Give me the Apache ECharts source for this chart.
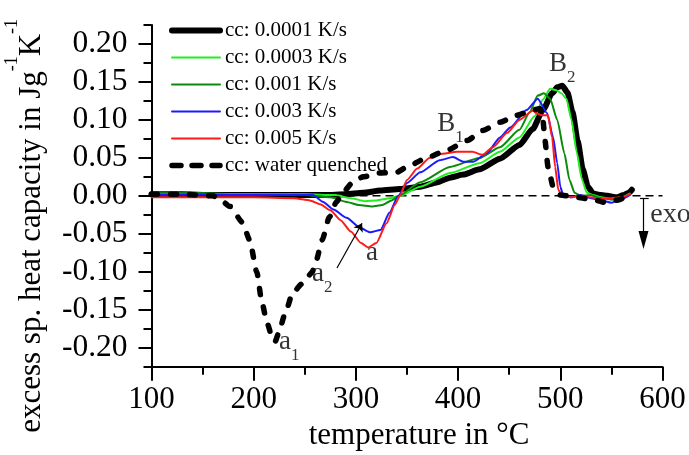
<!DOCTYPE html>
<html>
<head>
<meta charset="utf-8">
<script src="https://cdn.jsdelivr.net/npm/echarts@6/dist/echarts.min.js"></script>
<style>
  html, body { margin: 0; background: #fff; }
  #chart { width: 689px; height: 455px; }
</style>
</head>
<body>
<div id="chart"></div>
<script>
// temperature (°C) / excess specific heat capacity (J g^-1 K^-1)
const names = ['cc: 0.0001 K/s', 'cc: 0.0003 K/s', 'cc: 0.001 K/s', 'cc: 0.003 K/s', 'cc: 0.005 K/s', 'cc: water quenched'];

const cc00001 = [[100,0.002],[130,0.002],[160,0.001],[200,0.001],[240,0.001],[270,0.001],[290,0.002],[307,0.004],[324,0.007],
  [343,0.009],[363,0.012],[380,0.018],[392,0.024],[405,0.028],[421,0.035],[441,0.049],[460,0.067],[473,0.088],[483,0.113],
  [492,0.135],[497,0.143],[502,0.145],[507,0.136],[512,0.110],[517,0.072],[522,0.035],[527,0.012],[532,0.003],[540,0.001],
  [546,0.000],[555,-0.002],[562,0.001],[567,0.004],[570,0.008]];

const cc00003 = [[100,0.003],[150,0.003],[200,0.002],[250,0.002],[280,0.001],[295,-0.003],[309,-0.007],[320,-0.006],[333,-0.003],
  [343,0.000],[363,0.012],[392,0.030],[421,0.043],[441,0.058],[460,0.077],[475,0.105],[483,0.127],[490,0.141],[496,0.139],
  [501,0.135],[506,0.128],[511,0.100],[516,0.058],[521,0.022],[526,0.004],[532,0.001],[540,-0.002],[550,-0.004],[560,-0.002],[568,0.003]];

const cc0001 = [[100,0.002],[150,0.002],[200,0.001],[250,0.001],[275,-0.002],[291,-0.008],[303,-0.012],[316,-0.014],[326,-0.012],
  [335,-0.006],[342,0.000],[363,0.018],[392,0.038],[421,0.050],[441,0.064],[460,0.087],[470,0.110],[478,0.132],[484,0.135],
  [490,0.128],[497,0.100],[504,0.056],[509,0.021],[514,0.004],[520,0.000],[530,0.001],[540,-0.003],[550,-0.005],[560,-0.002],[568,0.002]];

const cc0003 = [[100,0.001],[150,0.002],[200,0.001],[250,0.001],[258,0.001],[268,-0.008],[278,-0.018],[291,-0.029],[304,-0.042],
  [314,-0.048],[324,-0.045],[333,-0.022],[341,-0.001],[350,0.017],[363,0.031],[382,0.047],[395,0.051],[405,0.045],[415,0.045],
  [428,0.056],[441,0.077],[451,0.090],[467,0.113],[478,0.128],[487,0.109],[493,0.077],[497,0.043],[500,0.012],[503,0.000],
  [510,-0.002],[520,0.001],[530,-0.003],[540,-0.006],[550,-0.009],[560,-0.004],[568,0.001]];

const cc0005 = [[100,-0.002],[150,-0.002],[200,-0.002],[240,-0.003],[255,-0.006],[265,-0.011],[275,-0.019],[285,-0.032],[295,-0.047],
  [305,-0.062],[312,-0.068],[320,-0.062],[330,-0.036],[338,-0.012],[343,0.000],[350,0.021],[360,0.036],[372,0.050],[382,0.055],
  [399,0.058],[414,0.058],[424,0.054],[434,0.064],[448,0.083],[460,0.100],[473,0.112],[478,0.108],[482,0.106],[488,0.106],
  [492,0.077],[495,0.038],[498,0.008],[502,0.000],[510,-0.002],[520,0.000],[530,-0.002],[540,-0.004],[550,-0.003],[560,-0.002],[568,0.002]];

const waterQuenched = [[100,0.002],[130,0.002],[160,0.000],[167,-0.005],[177,-0.014],[189,-0.035],[196,-0.058],[203,-0.100],
  [208,-0.140],[213,-0.167],[218,-0.186],[221,-0.192],[224,-0.182],[231,-0.154],[238,-0.128],[248,-0.115],[257,-0.101],
  [261,-0.086],[267,-0.058],[274,-0.028],[281,-0.008],[287,0.004],[297,0.018],[307,0.025],[323,0.030],[340,0.031],[350,0.038],
  [369,0.050],[389,0.060],[409,0.073],[424,0.086],[441,0.097],[457,0.106],[473,0.113],[480,0.115],[483,0.100],[485,0.073],
  [488,0.038],[493,0.012],[500,0.001],[512,-0.001],[532,-0.005],[545,-0.009],[558,-0.005],[568,0.004]];

const zeroLine = [[100,0],[600,0]];

// annotations: [temperature, value, text]
const notes = [[489,0.192,'{m|B}{s|2}'],[379.5,0.113,'{m|B}{s|1}'],[310,-0.058,'{m|a}'],
  [257,-0.085,'{m|a}{s|2}'],[224.8,-0.174,'{m|a}{s|1}'],[588,-0.006,'{e|exo}']];
const a2Arrow = [[281.5,-0.095],[306,-0.036]];
const exoArrow = [[581.4,-0.003],[581.4,-0.058]];
const exoBar = [[578,-0.003],[586.5,-0.003]];

const font = "'Liberation Serif', 'Times New Roman', serif";
const colors = ['#000000', '#1ef01e', '#0a8a0a', '#1a1aff', '#ff1a1a', '#000000'];
const widths = [6, 2, 2, 2, 2, 5.5];
const dash = [6, 13];

const chart = echarts.init(document.getElementById('chart'));

function curve(i, data) {
  return {
    name: names[i], type: 'line', data: data, symbol: 'none', showSymbol: false,
    smooth: 0.2, smoothMonotone: 'x',
    lineStyle: { color: colors[i], width: widths[i], type: i === 5 ? dash : 'solid', cap: 'round', join: 'round' },
    itemStyle: { color: colors[i] },
    emphasis: { disabled: true }
  };
}

const option = {
  animation: false,
  backgroundColor: '#fff',
  grid: [
    { left: 151.5, right: 26.5, top: 25, bottom: 88.3, outerBoundsMode: 'none', containLabel: false },
    { left: 151.5, right: 26.5, top: 44, bottom: 107.4, outerBoundsMode: 'none', containLabel: false }
  ],
  legend: {
    data: names.map((n, i) => ({
      name: n,
      itemStyle: { opacity: 0 },
      lineStyle: { color: colors[i], width: widths[i], type: i === 5 ? [9, 11] : 'solid', cap: 'round', opacity: 1 }
    })),
    orient: 'vertical', left: 164, top: 15,
    itemWidth: 48, itemHeight: 12, itemGap: 6,
    textStyle: { fontFamily: font, fontSize: 21, lineHeight: 21, color: '#000' }
  },
  xAxis: [{
    gridIndex: 0, type: 'value', min: 100, max: 600, interval: 100,
    name: 'temperature in °C', nameLocation: 'middle', nameGap: 45,
    nameTextStyle: { fontFamily: font, fontSize: 31, color: '#000', padding: [0, 0, 0, 24] },
    axisLine: { onZero: false, lineStyle: { color: '#000', width: 2 } },
    axisTick: { length: 14, lineStyle: { width: 2 } },
    minorTick: { show: true, splitNumber: 2, length: 8, lineStyle: { color: '#000', width: 2 } },
    splitLine: { show: false },
    axisLabel: { fontFamily: font, fontSize: 31, color: '#000', margin: 18 }
  }, {
    gridIndex: 1, type: 'value', min: 100, max: 600, show: false
  }],
  yAxis: [{
    gridIndex: 0, type: 'value', min: -0.225, max: 0.225, interval: 0.025,
    axisLine: { onZero: false, lineStyle: { color: '#000', width: 2 } },
    axisTick: { length: 8, lineStyle: { width: 2 } },
    axisLabel: { show: false },
    splitLine: { show: false },
    name: '{n|excess sp. heat capacity in Jg}{p|-1}{n|K}{p|-1}',
    nameLocation: 'middle', nameGap: 104,
    nameTextStyle: {
      padding: [0, 60, 0, 0],
      rich: {
        n: { fontFamily: font, fontSize: 31, lineHeight: 44, verticalAlign: 'bottom', color: '#000' },
        p: { fontFamily: font, fontSize: 18, lineHeight: 44, verticalAlign: 'top', color: '#000' }
      }
    }
  }, {
    gridIndex: 1, type: 'value', min: -0.2, max: 0.2, interval: 0.05,
    axisLine: { show: false },
    axisTick: { length: 13, lineStyle: { color: '#000', width: 2 } },
    splitLine: { show: false },
    axisLabel: { fontFamily: font, fontSize: 31.5, color: '#000', margin: 24, formatter: v => v.toFixed(2) }
  }],
  series: [
    {
      name: 'zero', type: 'line', data: zeroLine, symbol: 'none', silent: true,
      lineStyle: { color: '#000', width: 1.5, type: [8, 5] }
    },
    curve(0, cc00001),
    curve(1, cc00003),
    curve(2, cc0001),
    curve(3, cc0003),
    curve(4, cc0005),
    curve(5, waterQuenched),
    {
      name: 'notes', type: 'scatter', symbolSize: 0, silent: true,
      data: notes,
      label: {
        show: true, position: [0, 0], align: 'left', verticalAlign: 'top',
        formatter: p => p.data[2],
        rich: {
          m: { fontFamily: font, fontSize: 27, lineHeight: 36, verticalAlign: 'top', color: '#000' },
          s: { fontFamily: font, fontSize: 17, lineHeight: 36, verticalAlign: 'bottom', color: '#000' },
          e: { fontFamily: font, fontSize: 28, lineHeight: 28, verticalAlign: 'top', color: '#000' }
        }
      },
      markLine: {
        silent: true, animation: false, label: { show: false },
        lineStyle: { color: '#000', width: 1.2, type: 'solid' },
        data: [
          [{ coord: a2Arrow[0], symbol: 'none' }, { coord: a2Arrow[1], symbol: 'arrow', symbolSize: 8 }],
          [{ coord: exoArrow[0], symbol: 'none' }, { coord: exoArrow[1], symbol: 'triangle', symbolSize: [10, 18] }],
          [{ coord: exoBar[0], symbol: 'none' }, { coord: exoBar[1], symbol: 'none' }]
        ]
      }
    }
  ]
};

chart.setOption(option);
</script>
</body>
</html>
